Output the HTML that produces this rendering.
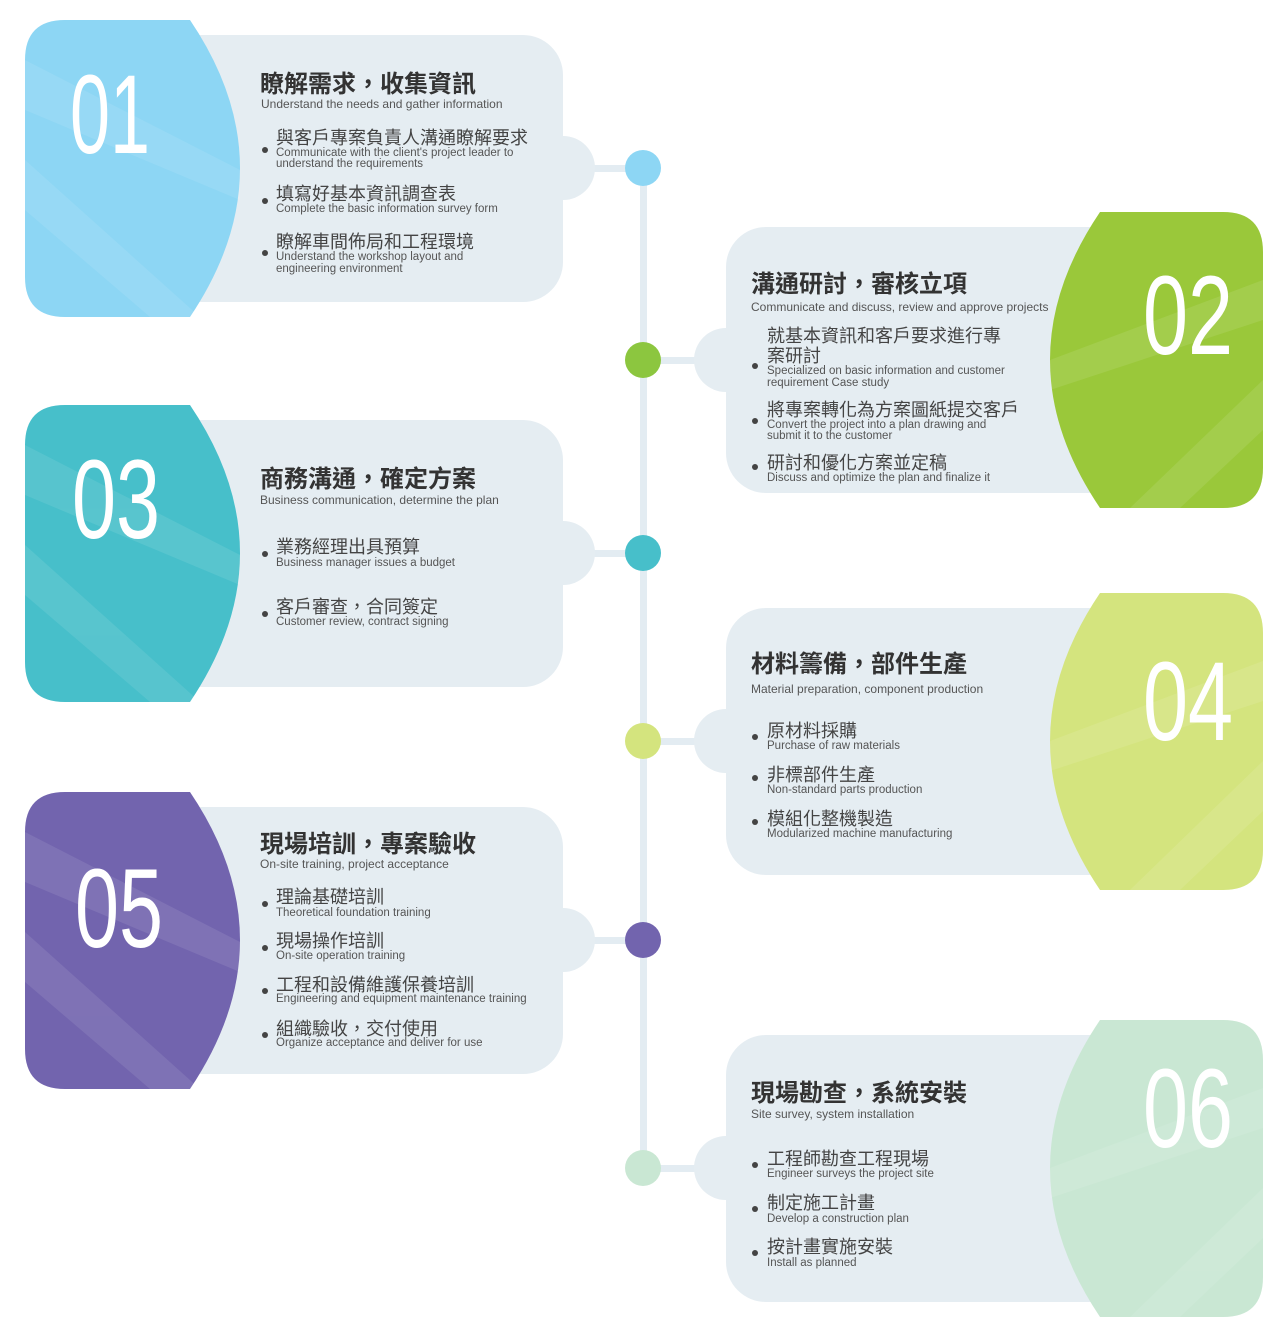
<!DOCTYPE html>
<html><head><meta charset="utf-8"><style>
html,body{margin:0;padding:0;background:#fff}
svg{display:block}
text{font-family:"Liberation Sans","Noto Sans CJK TC",sans-serif}
.t{font-size:24px;font-weight:bold;fill:#333}
.s{font-size:12px;fill:#555}
.c{font-size:18px;fill:#444}
.e{font-size:11.5px;fill:#555}
.n{font-family:"Liberation Sans Narrow","Liberation Sans",sans-serif;font-size:112px;fill:#fff}
</style></head><body>
<svg width="1280" height="1334" viewBox="0 0 1280 1334">
<defs>
<g id="dummy"></g>
</defs>
<!-- vertical line -->
<rect x="640" y="168" width="7" height="1000" fill="#e3ecf2"/>
<!-- connectors -->
<g fill="#e3ecf2">
<rect x="590" y="165" width="70" height="7"/>
<rect x="643" y="357" width="60" height="7"/>
<rect x="590" y="550" width="55" height="7"/>
<rect x="643" y="738" width="60" height="7"/>
<rect x="590" y="937" width="55" height="7"/>
<rect x="643" y="1165" width="60" height="7"/>
</g>
<!-- gray panels + tabs -->
<g fill="#e5edf2">
<rect x="150" y="35" width="413" height="267" rx="40"/><circle cx="563" cy="168" r="32"/>
<rect x="726" y="227" width="410" height="266" rx="40"/><circle cx="726" cy="360" r="32"/>
<rect x="150" y="420" width="413" height="267" rx="40"/><circle cx="563" cy="553" r="32"/>
<rect x="726" y="608" width="410" height="267" rx="40"/><circle cx="726" cy="741" r="32"/>
<rect x="150" y="807" width="413" height="267" rx="40"/><circle cx="563" cy="940" r="32"/>
<rect x="726" y="1035" width="410" height="267" rx="40"/><circle cx="726" cy="1168" r="32"/>
</g>
<!-- colored blocks -->
<path d="M65,20 H190 Q290,168 190,317 H65 Q25,317 25,277 V60 Q25,20 65,20Z" fill="#8dd6f4"/>
<path d="M1223,212 Q1263,212 1263,252 V468 Q1263,508 1223,508 H1100 Q1000,360 1100,212Z" fill="#9ac83a"/>
<path d="M65,405 H190 Q290,553 190,702 H65 Q25,702 25,662 V445 Q25,405 65,405Z" fill="#47bfca"/>
<path d="M1223,593 Q1263,593 1263,633 V850 Q1263,890 1223,890 H1100 Q1000,741 1100,593Z" fill="#d4e47e"/>
<path d="M65,792 H190 Q290,940 190,1089 H65 Q25,1089 25,1049 V832 Q25,792 65,792Z" fill="#7264ae"/>
<path d="M1223,1020 Q1263,1020 1263,1060 V1277 Q1263,1317 1223,1317 H1100 Q1000,1168 1100,1020Z" fill="#c9e7d3"/>
<!-- rays -->
<g fill="#fff" opacity="0.09">
<polygon points="25,60 240,170 240,200 25,110"/>
<polygon points="25,160 200,317 150,317 25,210"/>
<polygon points="25,445 240,555 240,585 25,495"/>
<polygon points="25,545 200,702 150,702 25,595"/>
<polygon points="25,832 240,942 240,972 25,882"/>
<polygon points="25,932 200,1089 150,1089 25,982"/>
<polygon points="1263,280 1050,360 1050,390 1263,320"/>
<polygon points="1263,380 1130,508 1180,508 1263,430"/>
<polygon points="1263,661 1050,741 1050,771 1263,701"/>
<polygon points="1263,761 1130,890 1180,890 1263,811"/>
<polygon points="1263,1088 1050,1168 1050,1198 1263,1128"/>
<polygon points="1263,1188 1130,1317 1180,1317 1263,1238"/>
</g>
<!-- dots -->
<circle cx="643" cy="168" r="18" fill="#8dd6f4"/>
<circle cx="643" cy="360" r="18" fill="#8cc63f"/>
<circle cx="643" cy="553" r="18" fill="#47bfca"/>
<circle cx="643" cy="741" r="18" fill="#d4e47e"/>
<circle cx="643" cy="940" r="18" fill="#7264ae"/>
<circle cx="643" cy="1168" r="18" fill="#c9e7d3"/>
<!-- numbers -->
<text class="n" x="70" y="153" textLength="80" lengthAdjust="spacingAndGlyphs">01</text>
<text class="n" x="1143" y="354" textLength="90" lengthAdjust="spacingAndGlyphs">02</text>
<text class="n" x="72" y="538" textLength="88" lengthAdjust="spacingAndGlyphs">03</text>
<text class="n" x="1143" y="740" textLength="90" lengthAdjust="spacingAndGlyphs">04</text>
<text class="n" x="75" y="947" textLength="88" lengthAdjust="spacingAndGlyphs">05</text>
<text class="n" x="1143" y="1147" textLength="90" lengthAdjust="spacingAndGlyphs">06</text>
<!-- bullets -->
<g fill="#444">
<circle cx="265" cy="150" r="3"/><circle cx="265" cy="201" r="3"/><circle cx="265" cy="253" r="3"/>
<circle cx="755" cy="366" r="3"/><circle cx="755" cy="421" r="3"/><circle cx="755" cy="467" r="3"/>
<circle cx="265" cy="554" r="3"/><circle cx="265" cy="614" r="3"/>
<circle cx="755" cy="737" r="3"/><circle cx="755" cy="778" r="3"/><circle cx="755" cy="822" r="3"/>
<circle cx="265" cy="904" r="3"/><circle cx="265" cy="948" r="3"/><circle cx="265" cy="991" r="3"/><circle cx="265" cy="1035" r="3"/>
<circle cx="755" cy="1165" r="3"/><circle cx="755" cy="1209" r="3"/><circle cx="755" cy="1253" r="3"/>
</g>
<!-- card 1 -->
<text class="t" x="260" y="92">瞭解需求，收集資訊</text>
<text class="s" x="261" y="108">Understand the needs and gather information</text>
<text class="c" x="276" y="144">與客戶專案負責人溝通瞭解要求</text>
<text class="e" x="276" y="156">Communicate with the client's project leader to</text>
<text class="e" x="276" y="167">understand the requirements</text>
<text class="c" x="276" y="200">填寫好基本資訊調查表</text>
<text class="e" x="276" y="212">Complete the basic information survey form</text>
<text class="c" x="276" y="248">瞭解車間佈局和工程環境</text>
<text class="e" x="276" y="260">Understand the workshop layout and</text>
<text class="e" x="276" y="272">engineering environment</text>
<!-- card 2 -->
<text class="t" x="751" y="292">溝通研討，審核立項</text>
<text class="s" x="751" y="311">Communicate and discuss, review and approve projects</text>
<text class="c" x="767" y="342">就基本資訊和客戶要求進行專</text>
<text class="c" x="767" y="362">案研討</text>
<text class="e" x="767" y="374">Specialized on basic information and customer</text>
<text class="e" x="767" y="386">requirement Case study</text>
<text class="c" x="767" y="416">將專案轉化為方案圖紙提交客戶</text>
<text class="e" x="767" y="428">Convert the project into a plan drawing and</text>
<text class="e" x="767" y="439">submit it to the customer</text>
<text class="c" x="767" y="469">研討和優化方案並定稿</text>
<text class="e" x="767" y="481">Discuss and optimize the plan and finalize it</text>
<!-- card 3 -->
<text class="t" x="260" y="487">商務溝通，確定方案</text>
<text class="s" x="260" y="504">Business communication, determine the plan</text>
<text class="c" x="276" y="553">業務經理出具預算</text>
<text class="e" x="276" y="566">Business manager issues a budget</text>
<text class="c" x="276" y="613">客戶審查，合同簽定</text>
<text class="e" x="276" y="625">Customer review, contract signing</text>
<!-- card 4 -->
<text class="t" x="751" y="672">材料籌備，部件生產</text>
<text class="s" x="751" y="693">Material preparation, component production</text>
<text class="c" x="767" y="737">原材料採購</text>
<text class="e" x="767" y="749">Purchase of raw materials</text>
<text class="c" x="767" y="781">非標部件生產</text>
<text class="e" x="767" y="793">Non-standard parts production</text>
<text class="c" x="767" y="825">模組化整機製造</text>
<text class="e" x="767" y="837">Modularized machine manufacturing</text>
<!-- card 5 -->
<text class="t" x="260" y="852">現場培訓，專案驗收</text>
<text class="s" x="260" y="868">On-site training, project acceptance</text>
<text class="c" x="276" y="903">理論基礎培訓</text>
<text class="e" x="276" y="916">Theoretical foundation training</text>
<text class="c" x="276" y="947">現場操作培訓</text>
<text class="e" x="276" y="959">On-site operation training</text>
<text class="c" x="276" y="991">工程和設備維護保養培訓</text>
<text class="e" x="276" y="1002">Engineering and equipment maintenance training</text>
<text class="c" x="276" y="1035">組織驗收，交付使用</text>
<text class="e" x="276" y="1046">Organize acceptance and deliver for use</text>
<!-- card 6 -->
<text class="t" x="751" y="1101">現場勘查，系統安裝</text>
<text class="s" x="751" y="1118">Site survey, system installation</text>
<text class="c" x="767" y="1165">工程師勘查工程現場</text>
<text class="e" x="767" y="1177">Engineer surveys the project site</text>
<text class="c" x="767" y="1209">制定施工計畫</text>
<text class="e" x="767" y="1222">Develop a construction plan</text>
<text class="c" x="767" y="1253">按計畫實施安裝</text>
<text class="e" x="767" y="1266">Install as planned</text>
</svg>
</body></html>
